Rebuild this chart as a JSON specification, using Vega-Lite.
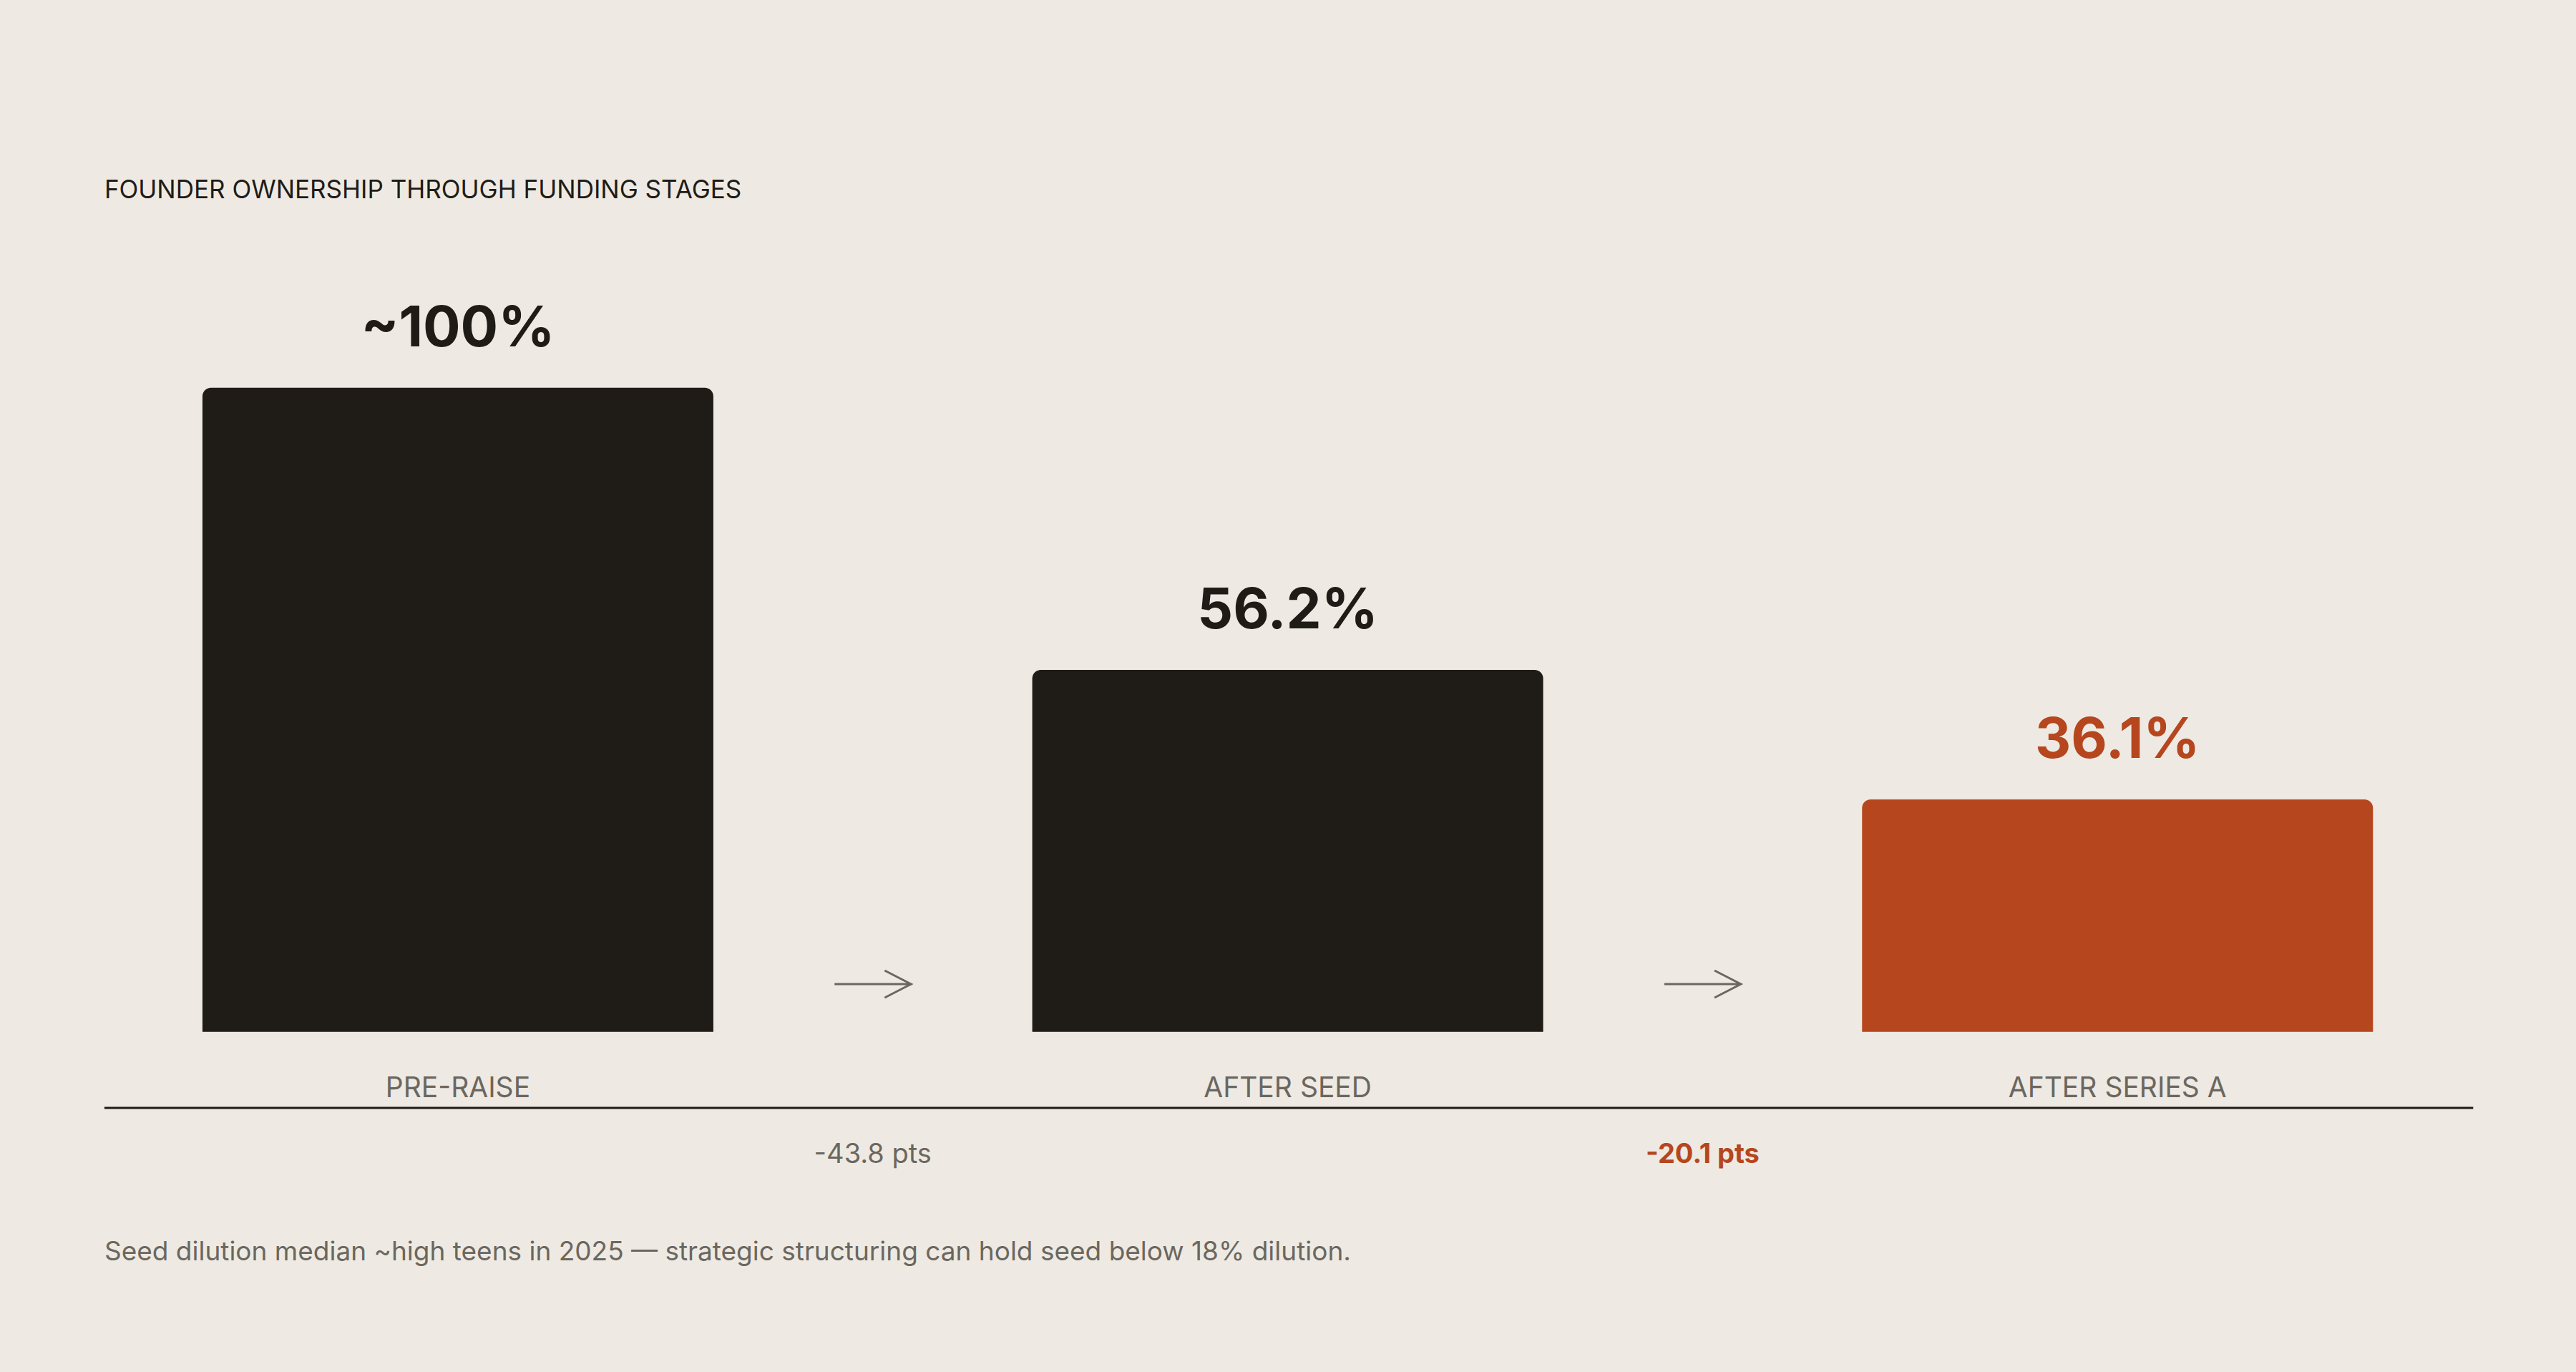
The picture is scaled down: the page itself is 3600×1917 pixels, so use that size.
{
  "$schema": "https://vega.github.io/schema/vega-lite/v6.json",
  "width": 3600,
  "height": 1917,
  "autosize": {"type": "fit", "contains": "padding"},
  "padding": 0,
  "background": "#eeeae3",
  "config": {
    "view": {"stroke": null},
    "font": "Inter",
    "text": {"font": "Inter"}
  },
  "datasets": {
    "stages": [
      {"stage": "PRE-RAISE", "idx": 0, "value": 100, "label": "~100%"},
      {"stage": "AFTER SEED", "idx": 1, "value": 56.2, "label": "56.2%"},
      {"stage": "AFTER SERIES A", "idx": 2, "value": 36.1, "label": "36.1%"}
    ],
    "transitions": [
      {"idx": 0.5, "delta": -43.8, "label": "-43.8 pts"},
      {"idx": 1.5, "delta": -20.1, "label": "-20.1 pts"}
    ]
  },
  "layer": [
    {
      "data": {"name": "stages"},
      "mark": {"type": "bar", "width": 714, "cornerRadiusTopLeft": 12, "cornerRadiusTopRight": 12},
      "encoding": {
        "x": {"field": "idx", "type": "quantitative", "scale": {"domain": [-0.5475, 2.5482], "nice": false, "zero": false}, "axis": null},
        "y": {"field": "value", "type": "quantitative", "scale": {"domain": [-52.8, 160.2], "nice": false, "zero": false}, "axis": null},
        "y2": {"datum": 0},
        "color": {"condition": {"test": "datum.stage === 'AFTER SERIES A'", "value": "#b5461d"}, "value": "#1f1c17"}
      }
    },
    {
      "data": {"name": "stages"},
      "mark": {"type": "text", "baseline": "alphabetic", "dy": -58, "fontSize": 78, "fontWeight": 700},
      "encoding": {
        "x": {"field": "idx", "type": "quantitative", "scale": {"domain": [-0.5475, 2.5482], "nice": false, "zero": false}, "axis": null},
        "y": {"field": "value", "type": "quantitative", "scale": {"domain": [-52.8, 160.2], "nice": false, "zero": false}, "axis": null},
        "text": {"field": "label"},
        "color": {"condition": {"test": "datum.stage === 'AFTER SERIES A'", "value": "#b5461d"}, "value": "#1f1c17"}
      }
    },
    {
      "data": {"name": "stages"},
      "mark": {"type": "text", "baseline": "alphabetic", "fontSize": 39, "color": "#6b675f"},
      "encoding": {
        "x": {"field": "idx", "type": "quantitative", "scale": {"domain": [-0.5475, 2.5482], "nice": false, "zero": false}, "axis": null},
        "y": {"datum": -10.13, "type": "quantitative", "scale": {"domain": [-52.8, 160.2], "nice": false, "zero": false}, "axis": null},
        "text": {"field": "stage"}
      }
    },
    {
      "data": {"values": [{}]},
      "mark": {"type": "rule", "strokeWidth": 3, "color": "#1f1c17"},
      "encoding": {
        "x": {"datum": -0.426, "type": "quantitative", "scale": {"domain": [-0.5475, 2.5482], "nice": false, "zero": false}, "axis": null},
        "x2": {"datum": 2.4286},
        "y": {"datum": -11.8, "type": "quantitative", "scale": {"domain": [-52.8, 160.2], "nice": false, "zero": false}, "axis": null}
      }
    },
    {
      "data": {"name": "transitions"},
      "mark": {
        "type": "point",
        "shape": "M -1 0 L 1 0 M 0.31 -0.355 L 1 0 L 0.31 0.355",
        "size": 11449,
        "filled": false,
        "opacity": 1,
        "stroke": "#6b675f",
        "strokeWidth": 3
      },
      "encoding": {
        "x": {"field": "idx", "type": "quantitative", "scale": {"domain": [-0.5475, 2.5482], "nice": false, "zero": false}, "axis": null},
        "y": {"datum": 7.42, "type": "quantitative", "scale": {"domain": [-52.8, 160.2], "nice": false, "zero": false}, "axis": null}
      }
    },
    {
      "data": {"name": "transitions"},
      "transform": [{"filter": "datum.delta < -30"}],
      "mark": {"type": "text", "baseline": "alphabetic", "fontSize": 38, "color": "#6b675f"},
      "encoding": {
        "x": {"field": "idx", "type": "quantitative", "scale": {"domain": [-0.5475, 2.5482], "nice": false, "zero": false}, "axis": null},
        "y": {"datum": -20.36, "type": "quantitative", "scale": {"domain": [-52.8, 160.2], "nice": false, "zero": false}, "axis": null},
        "text": {"field": "label"}
      }
    },
    {
      "data": {"name": "transitions"},
      "transform": [{"filter": "datum.delta >= -30"}],
      "mark": {"type": "text", "baseline": "alphabetic", "fontSize": 38, "fontWeight": 700, "color": "#b5461d"},
      "encoding": {
        "x": {"field": "idx", "type": "quantitative", "scale": {"domain": [-0.5475, 2.5482], "nice": false, "zero": false}, "axis": null},
        "y": {"datum": -20.36, "type": "quantitative", "scale": {"domain": [-52.8, 160.2], "nice": false, "zero": false}, "axis": null},
        "text": {"field": "label"}
      }
    },
    {
      "data": {"values": [{}]},
      "mark": {"type": "text", "align": "left", "baseline": "alphabetic", "fontSize": 35, "color": "#1f1c17"},
      "encoding": {
        "x": {"datum": -0.426, "type": "quantitative", "scale": {"domain": [-0.5475, 2.5482], "nice": false, "zero": false}, "axis": null},
        "y": {"datum": 129.42, "type": "quantitative", "scale": {"domain": [-52.8, 160.2], "nice": false, "zero": false}, "axis": null},
        "text": {"value": "FOUNDER OWNERSHIP THROUGH FUNDING STAGES"}
      }
    },
    {
      "data": {"values": [{}]},
      "mark": {"type": "text", "align": "left", "baseline": "alphabetic", "fontSize": 37, "color": "#6b675f"},
      "encoding": {
        "x": {"datum": -0.426, "type": "quantitative", "scale": {"domain": [-0.5475, 2.5482], "nice": false, "zero": false}, "axis": null},
        "y": {"datum": -35.47, "type": "quantitative", "scale": {"domain": [-52.8, 160.2], "nice": false, "zero": false}, "axis": null},
        "text": {"value": "Seed dilution median ~high teens in 2025 — strategic structuring can hold seed below 18% dilution."}
      }
    }
  ]
}
